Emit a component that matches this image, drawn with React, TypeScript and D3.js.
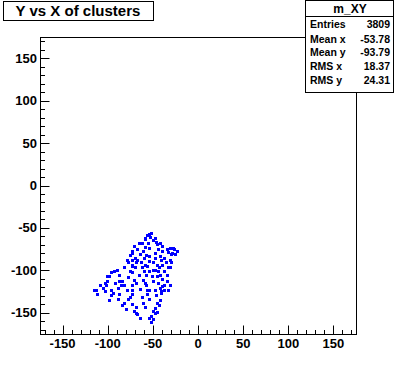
import React, { useRef, useEffect } from 'react';
import * as d3 from 'd3';

// estimated cluster positions (x, y)
const pointsX = [
  -53.2, -55.4, -51, -58.7, -62, -49.8, -45.4, -42, -38.8, -34.3, -31, -25.5, -22.2, -27.7,
  -60.9, -56.5, -47.6, -42, -36.6, -31, -53.2, -58.7, -62, -45.4, -38.8, -33.2, -47.6, -53.2,
  -56.5, -34.3, -42,
  -65.3, -69.8, -73.1, -72, -75.3, -78.6, -73.1, -66.5, -67.6, -72, -73.1, -75.3, -73.1,
  -89.7, -92, -95.3, -97.5,
  -108.5, -111.9, -114.1, -99.7, -100.8, -94.1, -95.3, -97.5, -83.1, -84.2, -78.6, -80.9,
  -83.1, -72, -73.1, -67.6, -69.8, -67.6, -72,
  -60.9, -56.5, -49.8, -53.2, -39.9, -36.6, -34.3, -60.9, -45.4, -47.6, -49.8, -51, -49.8,
  -51, -42, -33.2,
  -86.4, -75.3, -67.6, -66.5, -55.4, -45.4, -49.8, -42, -45.4, -38.8, -31, -39.9, -103,
  -57.6, -52.1, -47.6, -54.3, -46.5, -53.2, -57.6, -44.3, -38.8, -33.2, -29.9, -24.4,
  -39.9, -35.4, -47.6, -53.2, -59.8, -64.2, -66.5, -63.1, -68.7, -55.4, -49.8, -42.1,
  -36.6, -44.3, -29.9, -26.6, -59.8, -50.9, -38.8, -44.3, -58.7, -64.2, -55.4, -47.6,
  -36.6, -31, -46.5, -53.2, -57.6, -42.1, -62, -77.5, -80.9, -88.6, -91.9, -103,
  -105.2, -110.8, -95.3, -86.4, -88.6, -77.5, -73.1, -79.7, -64.2, -53.2, -47.6, -99.7,
  -86.4, -80.9, -77.5, -68.7, -65.3, -69.8,
];
const pointsY = [
  -57.2, -59.5, -56, -64.2, -67.8, -65.4, -70, -67.8, -71.3, -75, -73.8, -76, -77.3, -79.6,
  -77.3, -82, -79.6, -83.2, -85.5, -87.8, -89, -93.7, -97.2, -93.7, -93.7, -97.2, -99.6, -100.8,
  -105.5, -105.5, -105.5,
  -67.8, -71.3, -77.3, -79.6, -82, -87.8, -87.8, -87.8, -91.3, -93.7, -94.9, -100.8, -103.1,
  -99.6, -100.8, -103.1, -106.7,
  -117.3, -124.3, -123.2, -112.6, -118.4, -126.7, -130.2, -135, -112.6, -118.4, -124.3, -138.5,
  -142, -124.3, -129, -114.9, -147.9, -150.3, -118.4,
  -111.4, -118.4, -112.6, -123.2, -126.7, -118.4, -112.6, -138.5, -138.5, -144.4, -147.9, -153.8, -158.5,
  -162, -120.8, -124.3,
  -113.7, -131.4, -143.2, -152.6, -123.2, -107.8, -99.6, -135, -149.1, -119.6, -96.1, -125.5, -125.5,
  -61.9, -60.7, -61.9, -67.8, -66.6, -73.7, -72.5, -76, -77.2, -78.4, -81.9, -81.9,
  -87.8, -90.2, -85.5, -83.1, -85.5, -81.9, -76, -90.2, -85.5, -94.9, -91.3, -97.2,
  -100.8, -101.9, -90.2, -73.7, -101.9, -106.7, -110.2, -114.9, -114.9, -122, -127.9, -123.2,
  -123.2, -117.3, -130.2, -134.9, -143.2, -142, -131.4, -109, -117.3, -120.8, -114.9, -114.9,
  -120.8, -129, -123.2, -129, -134.9, -134.9, -140.8, -146.7, -156.2, -157.3, -150.3, -106.7,
  -105.5, -97.2, -91.3, -97.2, -105.5, -111.4,
];

const xTicks = [-150, -100, -50, 0, 50, 100, 150];
const yTicks = [-150, -100, -50, 0, 50, 100, 150];
const statsLabels = ['Entries', 'Mean x', 'Mean y', 'RMS x', 'RMS y'];
const statsValues = ['3809', '-53.78', '-93.79', '18.37', '24.31'];

function App() {
  const svgRef = useRef(null);

  useEffect(() => {
    const W = 396, H = 372;
    const left = 40, right = 356, top = 37, bottom = 334;
    const font = '"Liberation Sans", Arial, Helvetica, sans-serif';

    const svg = d3.select(svgRef.current);
    svg.selectAll('*').remove();
    svg.attr('width', W).attr('height', H);

    svg.append('rect').attr('width', W).attr('height', H).attr('fill', 'white');

    const x = d3.scaleLinear().domain([-175, 175]).range([left, right]);
    const y = d3.scaleLinear().domain([-175, 175]).range([bottom, top]);

    // points
    svg.append('g')
      .selectAll('rect')
      .data(pointsX.map((v, i) => [v, pointsY[i]]))
      .enter()
      .append('rect')
      .attr('x', d => Math.round(x(d[0]) - 1.5))
      .attr('y', d => Math.round(y(d[1]) - 1.5))
      .attr('width', 3)
      .attr('height', 3)
      .attr('fill', '#0000ff');

    // frame
    svg.append('rect')
      .attr('x', left + 0.5).attr('y', top + 0.5)
      .attr('width', right - left).attr('height', bottom - top)
      .attr('fill', 'none').attr('stroke', 'black');

    // x ticks (inward)
    const minor = d3.range(-170, 171, 10);
    const gx = svg.append('g');
    gx.selectAll('line')
      .data(minor)
      .enter()
      .append('line')
      .attr('x1', d => Math.round(x(d)) + 0.5)
      .attr('x2', d => Math.round(x(d)) + 0.5)
      .attr('y1', bottom + 0.5)
      .attr('y2', d => bottom + 0.5 - (d % 50 === 0 ? 9 : 4.5))
      .attr('stroke', 'black');
    gx.selectAll('text')
      .data(xTicks)
      .enter()
      .append('text')
      .attr('x', d => x(d))
      .attr('y', 348)
      .attr('text-anchor', 'middle')
      .style('font-family', font)
      .style('font-weight', 'bold')
      .style('font-size', '13px')
      .text(d => d);

    // y ticks (inward)
    const gy = svg.append('g');
    gy.selectAll('line')
      .data(minor)
      .enter()
      .append('line')
      .attr('y1', d => Math.round(y(d)) + 0.5)
      .attr('y2', d => Math.round(y(d)) + 0.5)
      .attr('x1', left + 0.5)
      .attr('x2', d => left + 0.5 + (d % 50 === 0 ? 9 : 4.5))
      .attr('stroke', 'black');
    gy.selectAll('text')
      .data(yTicks)
      .enter()
      .append('text')
      .attr('x', 37)
      .attr('y', d => y(d) + 4.5)
      .attr('text-anchor', 'end')
      .style('font-family', font)
      .style('font-weight', 'bold')
      .style('font-size', '13px')
      .text(d => d);

    // title box
    svg.append('rect')
      .attr('x', 3.5).attr('y', 1.5).attr('width', 150).attr('height', 19)
      .attr('fill', 'white').attr('stroke', 'black');
    svg.append('text')
      .attr('x', 78).attr('y', 16)
      .attr('text-anchor', 'middle')
      .style('font-family', font)
      .style('font-weight', 'bold')
      .style('font-size', '15px')
      .text('Y vs X of clusters');

    // stats box
    svg.append('rect')
      .attr('x', 305.5).attr('y', 0.5).attr('width', 88).attr('height', 92)
      .attr('fill', 'white').attr('stroke', 'black');
    svg.append('line')
      .attr('x1', 305.5).attr('x2', 393.5).attr('y1', 16.5).attr('y2', 16.5)
      .attr('stroke', 'black');
    svg.append('text')
      .attr('x', 350).attr('y', 13)
      .attr('text-anchor', 'middle')
      .style('font-family', font)
      .style('font-weight', 'bold')
      .style('font-size', '12px')
      .text('m_XY');
    const rowY = [28, 43, 56, 70, 84];
    statsLabels.forEach((lab, i) => {
      svg.append('text')
        .attr('x', 310).attr('y', rowY[i])
        .style('font-family', font)
        .style('font-weight', 'bold')
        .style('font-size', '10.5px')
        .text(lab);
      svg.append('text')
        .attr('x', 390).attr('y', rowY[i])
        .attr('text-anchor', 'end')
        .style('font-family', font)
        .style('font-weight', 'bold')
        .style('font-size', '10.5px')
        .text(statsValues[i]);
    });
  }, []);

  return <svg ref={svgRef} style={{ position: 'absolute', left: 0, top: 0, display: 'block' }}></svg>;
}

export default App;
